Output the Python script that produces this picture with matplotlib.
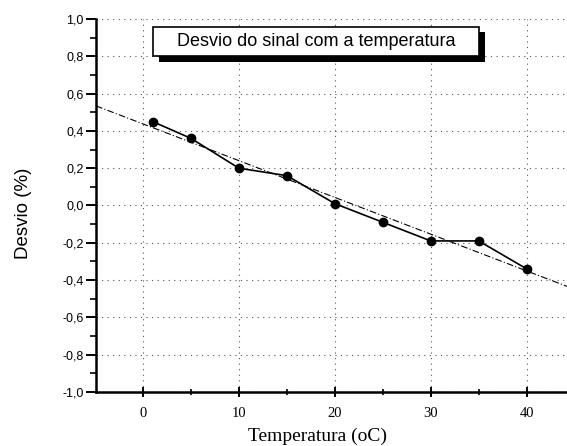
import numpy as np
import matplotlib.pyplot as plt
from matplotlib.ticker import MultipleLocator, FuncFormatter

# data
temperatura = [1, 5, 10, 15, 20, 25, 30, 35, 40]
desvio = [0.45, 0.36, 0.20, 0.16, 0.01, -0.09, -0.19, -0.19, -0.34]
titulo = "Desvio do sinal com a temperatura"

# linear fit of the measured points
coef = np.polyfit(temperatura, desvio, 1)
xfit = np.array([-4.9, 44.2])

fig = plt.figure(figsize=(5.67, 4.46), dpi=100)
ax = fig.add_axes([96/567, 1 - 392/446, 1 - 96/567, (392 - 19)/446])

ax.plot(xfit, np.polyval(coef, xfit), color='black', lw=0.8, ls=(0, (6, 2, 1, 2)))
ax.plot(temperatura, desvio, color='black', lw=1.2, marker='o', ms=6)

ax.set_xlim(-4.9, 44.2)
ax.set_ylim(-1.0, 1.0)
ax.xaxis.set_major_locator(MultipleLocator(10))
ax.xaxis.set_minor_locator(MultipleLocator(5))
ax.yaxis.set_major_locator(MultipleLocator(0.2))
ax.yaxis.set_minor_locator(MultipleLocator(0.1))
ax.yaxis.set_major_formatter(FuncFormatter(lambda v, p: ('%.1f' % v).replace('.', ',')))

ax.grid(True, which='major', color='#555555', ls=(0, (1, 4)), lw=0.8)
ax.spines['top'].set_visible(False)
ax.spines['right'].set_visible(False)
ax.spines['left'].set_linewidth(1.8)
ax.spines['bottom'].set_linewidth(1.8)

ax.tick_params(axis='y', which='major', direction='out', length=7, width=1.4,
               labelsize=9, pad=2)
ax.tick_params(axis='y', which='minor', direction='out', length=4, width=1.2)
ax.tick_params(axis='x', which='major', direction='inout', length=7, width=1.4,
               labelsize=10.5, pad=7)
ax.tick_params(axis='x', which='minor', direction='inout', length=5, width=1.2)
for lab in ax.get_yticklabels():
    lab.set_family('Liberation Sans')
for lab in ax.get_xticklabels():
    lab.set_family('Liberation Serif')

ax.set_xlabel("Temperatura (oC)", family='Liberation Serif', fontsize=14)
ax.xaxis.set_label_coords((318 - 96) / (567 - 96), -0.095)
ax.set_ylabel("Desvio (%)", family='Liberation Sans', fontsize=13.5)
ax.yaxis.set_label_coords(-0.135, 0.48)

# title box with drop shadow
shadow = plt.Rectangle((159/567, 1 - 62/446), (485 - 159)/567, 30/446,
                       transform=fig.transFigure, facecolor='black', zorder=4)
box = plt.Rectangle((153/567, 1 - 56/446), (479 - 153)/567, 29/446,
                    transform=fig.transFigure, facecolor='white', edgecolor='black',
                    lw=1.2, zorder=5)
fig.patches.extend([shadow, box])
fig.text(177/567, 1 - 42/446, titulo, family='Liberation Sans', fontsize=13,
         va='center', ha='left', zorder=6)

fig.savefig('out.png', dpi=100)
